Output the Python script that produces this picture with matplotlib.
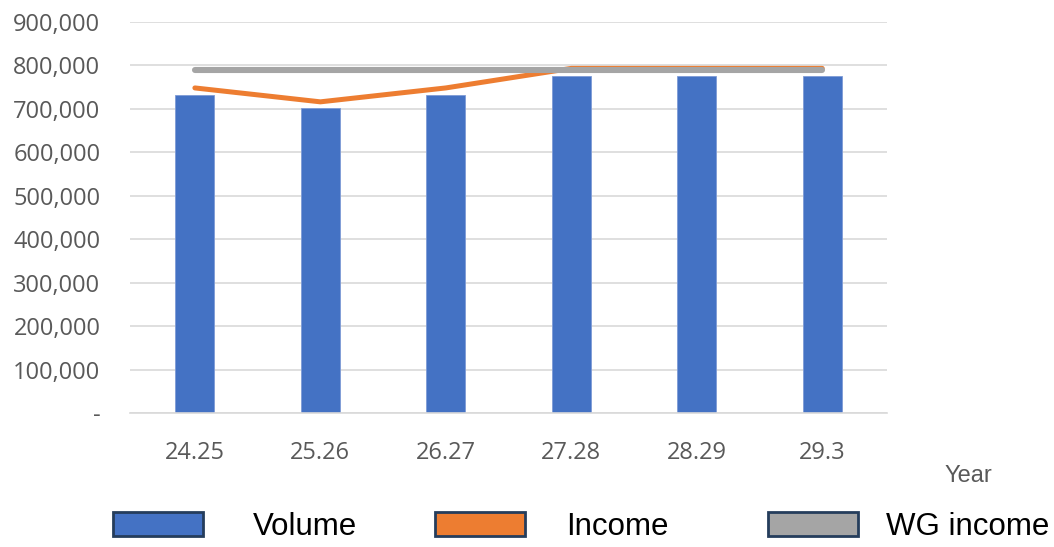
import numpy as np
import matplotlib
matplotlib.use("Agg")
import matplotlib.pyplot as plt
import matplotlib.patches as mpatches
from matplotlib.ticker import FuncFormatter

years = ["24.25", "25.26", "26.27", "27.28", "28.29", "29.3"]
volume = [732000, 702000, 732000, 776000, 776000, 776000]
income = [748000, 716000, 748000, 793000, 793000, 793000]
wg_income = [790000, 790000, 790000, 790000, 790000, 790000]

series_names = ["Volume", "Income", "WG income"]
blue = "#4472C4"
orange = "#ED7D31"
grey = "#A5A5A5"
label_col = "#595959"

plt.rcParams["font.family"] = ["Open Sans", "DejaVu Sans"]

leg_size = 22.5
leg_px = leg_size * 100 / 72

fig = plt.figure(figsize=(10.54, 5.47), dpi=100)
ax = fig.add_axes([0.123, 0.245, 0.719, 0.715])

x = np.arange(len(years))
ax.bar(x, volume, width=0.31, color=blue, edgecolor="#7E9BD6", linewidth=0.6, zorder=2)
ax.plot(x, income, color=orange, lw=3.6, solid_capstyle="round", zorder=3)
ax.plot(x, wg_income, color=grey, lw=4.4, solid_capstyle="round", zorder=4)

ax.set_xlim(-0.52, len(years) - 0.48)
ax.set_ylim(0, 900000)
ax.set_yticks(np.arange(0, 900001, 100000))
ax.yaxis.set_major_formatter(FuncFormatter(lambda v, p: "-" if v == 0 else f"{int(v):,}"))
ax.set_xticks(x)
ax.set_xticklabels(years)

ax.grid(axis="y", color="#D9D9D9", lw=1.2, zorder=0)
for s in ["top", "right", "left"]:
    ax.spines[s].set_visible(False)
ax.spines["bottom"].set_color("#D9D9D9")
ax.spines["bottom"].set_linewidth(1.2)
ax.tick_params(axis="both", length=0, colors=label_col, labelsize=17)
ax.tick_params(axis="y", pad=21)
ax.tick_params(axis="x", pad=20)

fig.text(0.919, 0.130, "Year", color=label_col, fontsize=17, ha="center", va="center",
         family=["Liberation Sans", "DejaVu Sans"])

# one legend box per series (left edge of swatch in px, gap to label in px)
legend_left = [113, 435, 768]
legend_gap = [50, 41, 28]
for name, col, left, gap in zip(series_names, (blue, orange, grey), legend_left, legend_gap):
    h = mpatches.Patch(facecolor=col, edgecolor="#253D5C", linewidth=2)
    fig.legend([h], [name], loc="center left", bbox_to_anchor=(left / 1054, 0.036),
               frameon=False, borderpad=0, borderaxespad=0,
               prop={"family": ["Liberation Sans", "DejaVu Sans"], "size": leg_size},
               handlelength=90 / leg_px, handleheight=25 / leg_px,
               handletextpad=gap / leg_px)

fig.savefig("out.png", dpi=100)
